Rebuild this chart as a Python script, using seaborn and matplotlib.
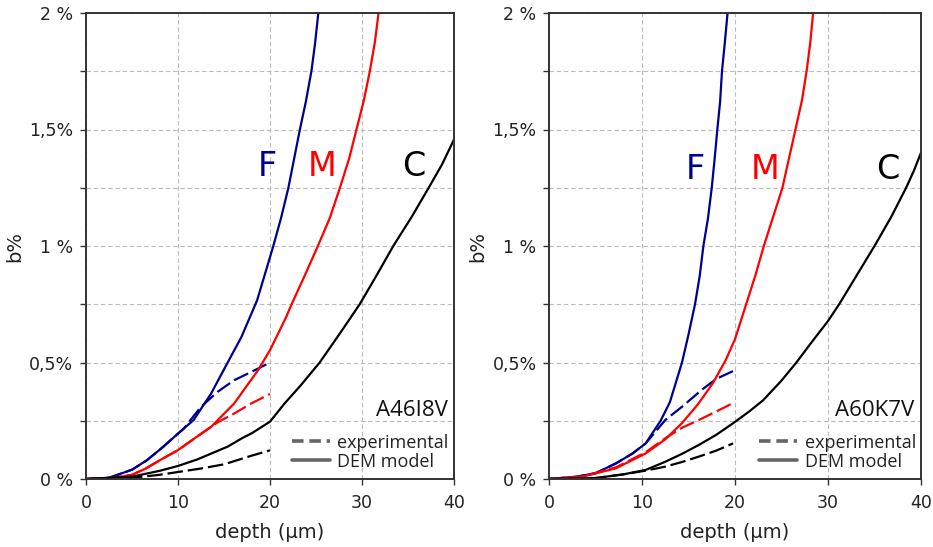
import numpy as np
import pandas as pd
import matplotlib
matplotlib.use("Agg")
import matplotlib.pyplot as plt
from matplotlib.lines import Line2D
import seaborn as sns

# ---------------- data ----------------
# Left panel: A46I8V
L_F_dem_x = [0, 2.5, 5, 6.6, 8.3, 10, 11.7, 13.6, 15.4, 16.9, 18.6, 20.36, 21.2, 22, 22.6, 23.25, 23.9, 24.5, 24.9, 25.25]
L_F_dem_y = [0, 0.005, 0.04, 0.08, 0.135, 0.195, 0.253, 0.367, 0.5, 0.61, 0.767, 1.0, 1.12, 1.25, 1.37, 1.5, 1.62, 1.75, 1.87, 2.0]
L_F_exp_x = [0, 2.5, 5, 6.6, 8.3, 10, 10.6, 12.5, 14.3, 16.1, 18, 20]
L_F_exp_y = [0, 0.005, 0.04, 0.08, 0.135, 0.195, 0.215, 0.31, 0.374, 0.424, 0.46, 0.5]
L_M_dem_x = [0, 3, 5, 6.5, 8, 10, 12, 13.6, 16.1, 18.7, 20, 21.7, 22.35, 23.8, 25.2, 26.5, 27.6, 28.6, 29.4, 30.2, 30.85, 31.4, 31.8]
L_M_dem_y = [0, 0.005, 0.018, 0.045, 0.08, 0.124, 0.18, 0.224, 0.324, 0.467, 0.553, 0.69, 0.75, 0.875, 1.0, 1.12, 1.25, 1.375, 1.5, 1.625, 1.75, 1.875, 2.0]
L_M_exp_x = [0, 3, 5, 6.5, 8, 10, 12, 14.3, 16.1, 18, 20]
L_M_exp_y = [0, 0.005, 0.018, 0.045, 0.08, 0.124, 0.18, 0.243, 0.281, 0.325, 0.365]
L_C_dem_x = [0, 5, 8, 10, 12.1, 15.4, 17, 18, 20, 21.6, 23.3, 25.4, 27.6, 29.75, 31.6, 33.4, 35.4, 37.25, 38.7, 40]
L_C_dem_y = [0, 0.01, 0.035, 0.056, 0.084, 0.139, 0.176, 0.196, 0.246, 0.325, 0.40, 0.5, 0.625, 0.75, 0.875, 1.0, 1.125, 1.25, 1.35, 1.457]
L_C_exp_x = [0, 5, 8, 10, 12.5, 15, 18, 20]
L_C_exp_y = [0, 0.005, 0.018, 0.03, 0.045, 0.063, 0.1, 0.123]

# Right panel: A60K7V
R_F_dem_x = [0, 3, 5, 7.2, 9, 10.4, 12, 13, 14.3, 15, 15.7, 16.2, 16.6, 17.1, 17.5, 17.8, 18.1, 18.4, 18.6, 18.9, 19.2]
R_F_dem_y = [0, 0.01, 0.025, 0.067, 0.11, 0.153, 0.25, 0.33, 0.5, 0.62, 0.75, 0.87, 1.0, 1.12, 1.25, 1.37, 1.5, 1.62, 1.75, 1.87, 2.0]
R_F_exp_x = [0, 3, 5, 7.2, 9, 10.4, 12.5, 14.3, 16.5, 18, 20]
R_F_exp_y = [0, 0.01, 0.025, 0.067, 0.11, 0.153, 0.253, 0.31, 0.385, 0.43, 0.467]
R_M_dem_x = [0, 3.6, 7.2, 10.4, 12.5, 14.3, 16, 17.6, 19, 20, 21.2, 22.2, 23.1, 24.1, 25.1, 25.8, 26.5, 27.2, 27.7, 28.1, 28.4]
R_M_dem_y = [0, 0.01, 0.046, 0.11, 0.17, 0.24, 0.32, 0.41, 0.51, 0.6, 0.75, 0.875, 1.0, 1.125, 1.25, 1.375, 1.5, 1.625, 1.75, 1.875, 2.0]
R_M_exp_x = [0, 3.6, 7.2, 10.4, 12.5, 14.3, 16.1, 18, 20]
R_M_exp_y = [0, 0.01, 0.05, 0.115, 0.175, 0.22, 0.253, 0.29, 0.33]
R_C_dem_x = [0, 5, 8, 10.4, 12.5, 14.3, 16.1, 18, 20, 21.5, 23, 24.95, 26.6, 28.2, 30, 31.2, 33.1, 35, 36.8, 38.4, 39.2, 40]
R_C_dem_y = [0, 0.004, 0.02, 0.039, 0.074, 0.108, 0.146, 0.19, 0.245, 0.289, 0.337, 0.42, 0.5, 0.585, 0.678, 0.75, 0.875, 1.0, 1.125, 1.25, 1.32, 1.40]
R_C_exp_x = [0, 5, 8, 10.4, 12.5, 14.3, 16.1, 18, 19.8]
R_C_exp_y = [0, 0.004, 0.02, 0.036, 0.053, 0.073, 0.096, 0.122, 0.153]

y_tick_vals = [0, 0.25, 0.5, 0.75, 1.0, 1.25, 1.5, 1.75, 2.0]
y_tick_labels = ["0 %", "", "0,5%", "", "1 %", "", "1,5%", "", "2 %"]
x_tick_vals = [0, 10, 20, 30, 40]
x_tick_labels = ["0", "10", "20", "30", "40"]

panel_names = ["A46I8V", "A60K7V"]
group_names = ["F", "M", "C"]
legend_labels = ["experimental", "DEM model"]

# ---------------- style ----------------
sns.set_theme(style="white")
plt.rcParams["font.family"] = ["DejaVu Sans"]

colors = {"F": "#000090", "M": "#ff0000", "C": "#000000"}
label_pos = {
    0: {"F": (19.7, 1.34), "M": (25.7, 1.34), "C": (35.6, 1.34)},
    1: {"F": (15.7, 1.33), "M": (23.2, 1.33), "C": (36.4, 1.33)},
}

panels = [
    {"F": (L_F_dem_x, L_F_dem_y, L_F_exp_x, L_F_exp_y),
     "M": (L_M_dem_x, L_M_dem_y, L_M_exp_x, L_M_exp_y),
     "C": (L_C_dem_x, L_C_dem_y, L_C_exp_x, L_C_exp_y)},
    {"F": (R_F_dem_x, R_F_dem_y, R_F_exp_x, R_F_exp_y),
     "M": (R_M_dem_x, R_M_dem_y, R_M_exp_x, R_M_exp_y),
     "C": (R_C_dem_x, R_C_dem_y, R_C_exp_x, R_C_exp_y)},
]

fig = plt.figure(figsize=(9.33, 5.47), dpi=100)
ax_rects = [
    [86 / 933, 1 - 479 / 547, (454 - 86) / 933, (479 - 13) / 547],
    [549 / 933, 1 - 479 / 547, (921 - 549) / 933, (479 - 13) / 547],
]

for i, rect in enumerate(ax_rects):
    ax = fig.add_axes(rect)
    data = panels[i]
    for g in group_names:
        dx, dy, ex, ey = data[g]
        sns.lineplot(x=dx, y=dy, ax=ax, color=colors[g], linewidth=1.6,
                     sort=False, estimator=None)
        sns.lineplot(x=ex, y=ey, ax=ax, color=colors[g], linewidth=1.6,
                     sort=False, estimator=None)
        ax.lines[-1].set_dashes([7, 2.2])
        lx, ly = label_pos[i][g]
        ax.text(lx, ly, g, color=colors[g], fontsize=24, ha="center", va="center")

    ax.set_xlim(0, 40)
    ax.set_ylim(0, 2)
    ax.set_xticks(x_tick_vals)
    ax.set_xticklabels(x_tick_labels)
    ax.set_yticks(y_tick_vals)
    ax.set_yticklabels(y_tick_labels)
    ax.grid(True, color="#bbbbbb", linestyle=(0, (4, 2.5)), linewidth=0.8)
    ax.tick_params(axis="both", which="major", direction="out", length=4,
                   width=1, color="#333333", labelsize=12.5, labelcolor="#222222",
                   left=True, bottom=True)
    ax.tick_params(axis="y", pad=5)
    ax.tick_params(axis="x", pad=7)
    for s in ax.spines.values():
        s.set_color("#333333")
        s.set_linewidth(1.4)
    ax.set_xlabel("depth (\u00b5m)", fontsize=14, color="#222222", labelpad=8)
    ax.set_ylabel("b%", fontsize=14, color="#222222", labelpad=4)

    ax.text(39.3, 0.296, panel_names[i], fontsize=16, ha="right", va="center",
            family=["Open Sans", "DejaVu Sans"], color="#111111")
    handles = [Line2D([], [], color="#666666", linewidth=2.6, dashes=[3.2, 1.6]),
               Line2D([], [], color="#666666", linewidth=2.6)]
    leg = ax.legend(handles, legend_labels, loc="lower right",
                    bbox_to_anchor=(1.02, -0.009), frameon=False,
                    prop={"family": ["Open Sans", "DejaVu Sans"], "size": 13},
                    handlelength=2.1, handletextpad=0.4, labelspacing=0.05,
                    borderaxespad=0.3)
    for t in leg.get_texts():
        t.set_color("#222222")

fig.savefig("out.png", dpi=100)
